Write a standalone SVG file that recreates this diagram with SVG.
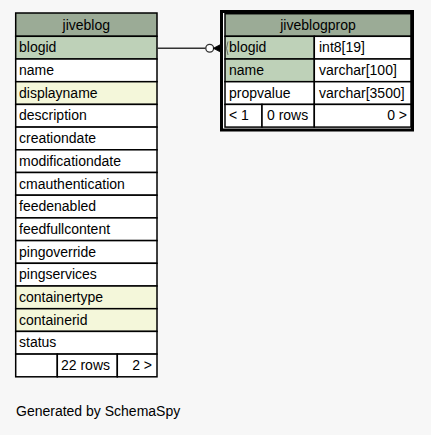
<svg xmlns="http://www.w3.org/2000/svg" width="431" height="435" viewBox="0 0 431 435">
<style>
text{font-family:"Liberation Sans",Arial,Helvetica,sans-serif;font-size:14px;fill:#000}
.c{stroke:#000;stroke-width:1.5}
.h{fill:#9bab96}
.pk{fill:#bed1b8}
.ix{fill:#f4f7da}
.w{fill:#fff}
.mid{text-anchor:middle}
.end{text-anchor:end}
.edge{fill:none;stroke:#333;stroke-width:1.4}
</style>
<rect x="0" y="0" width="431" height="435" fill="#f7f7f7"/>
<g id="jiveblog">
<rect class="c h" x="15.7" y="13" width="141.3" height="23.3"/>
<text class="mid" x="86.3" y="29.5">jiveblog</text>
<rect class="c pk" x="15.7" y="36.3" width="141.3" height="22.7"/><text x="19" y="52.3">blogid</text>
<rect class="c w" x="15.7" y="59" width="141.3" height="22.7"/><text x="19" y="75">name</text>
<rect class="c ix" x="15.7" y="81.7" width="141.3" height="22.7"/><text x="19" y="97.7">displayname</text>
<rect class="c w" x="15.7" y="104.4" width="141.3" height="22.7"/><text x="19" y="120.4">description</text>
<rect class="c w" x="15.7" y="127.1" width="141.3" height="22.7"/><text x="19" y="143.1">creationdate</text>
<rect class="c w" x="15.7" y="149.8" width="141.3" height="22.7"/><text x="19" y="165.8">modificationdate</text>
<rect class="c w" x="15.7" y="172.5" width="141.3" height="22.7"/><text x="19" y="188.5">cmauthentication</text>
<rect class="c w" x="15.7" y="195.2" width="141.3" height="22.7"/><text x="19" y="211.2">feedenabled</text>
<rect class="c w" x="15.7" y="217.9" width="141.3" height="22.7"/><text x="19" y="233.9">feedfullcontent</text>
<rect class="c w" x="15.7" y="240.6" width="141.3" height="22.7"/><text x="19" y="256.6">pingoverride</text>
<rect class="c w" x="15.7" y="263.3" width="141.3" height="22.7"/><text x="19" y="279.3">pingservices</text>
<rect class="c ix" x="15.7" y="286" width="141.3" height="22.7"/><text x="19" y="302">containertype</text>
<rect class="c ix" x="15.7" y="308.7" width="141.3" height="22.7"/><text x="19" y="324.7">containerid</text>
<rect class="c w" x="15.7" y="331.4" width="141.3" height="22.7"/><text x="19" y="347.4">status</text>
<rect class="c w" x="15.7" y="354.1" width="41.6" height="22.7"/>
<rect class="c w" x="57.3" y="354.1" width="60" height="22.7"/><text x="61" y="370.1">22 rows</text>
<rect class="c w" x="117.3" y="354.1" width="39.7" height="22.7"/><text class="end" x="152" y="370.1">2 &gt;</text>
</g>
<g id="jiveblogprop">
<rect x="221.5" y="11.5" width="191" height="118.5" fill="#fff" stroke="#000" stroke-width="3"/>
<rect class="c h" x="225" y="13.7" width="186" height="22.6"/>
<text class="mid" x="318" y="29.5">jiveblogprop</text>
<rect class="c pk" x="225" y="36.3" width="89.3" height="22.7"/><text x="229" y="52.3">blogid</text>
<rect class="c w" x="314.3" y="36.3" width="96.7" height="22.7"/><text x="319" y="52.3">int8[19]</text>
<rect class="c pk" x="225" y="59" width="89.3" height="22.7"/><text x="229" y="75">name</text>
<rect class="c w" x="314.3" y="59" width="96.7" height="22.7"/><text x="319" y="75">varchar[100]</text>
<rect class="c w" x="225" y="81.7" width="89.3" height="22.7"/><text x="229" y="97.7">propvalue</text>
<rect class="c w" x="314.3" y="81.7" width="96.7" height="22.7"/><text x="319" y="97.7">varchar[3500]</text>
<rect class="c w" x="225" y="104.4" width="37" height="22.7"/><text x="229" y="120.4">&lt; 1</text>
<rect class="c w" x="262" y="104.4" width="52.3" height="22.7"/><text x="267" y="120.4">0 rows</text>
<rect class="c w" x="314.3" y="104.4" width="96.7" height="22.7"/><text class="end" x="407" y="120.4">0 &gt;</text>
</g>
<g id="connectors">
<path class="edge" d="M157 48.3 H205.8"/>
<circle cx="209.7" cy="48.3" r="3.9" fill="#fff" stroke="#333" stroke-width="1.3"/>
<path d="M213.3 48.3 L221.5 44 L221.5 52.6 Z" fill="#000" stroke="#000" stroke-width="0.8"/>
<path d="M228 41.5 Q225 48.3 228 55" fill="none" stroke="#555" stroke-width="0.8"/>
</g>
<text x="16" y="416">Generated by SchemaSpy</text>
</svg>
